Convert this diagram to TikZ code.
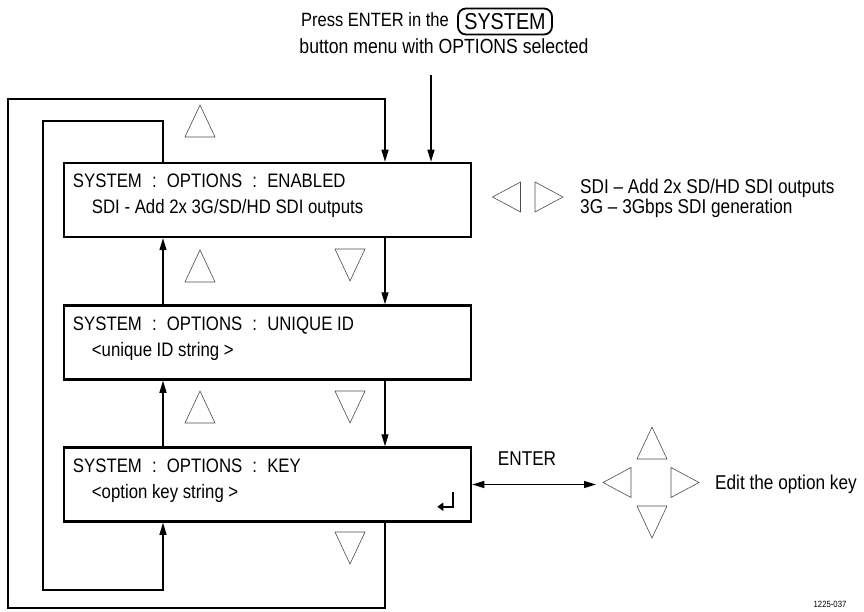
\documentclass[tikz,border=0pt]{standalone}
\usepackage{fontspec}
\setmainfont{Liberation Sans}[FakeStretch=0.86]
\usetikzlibrary{arrows.meta,calc}
\tikzset{
  box/.style={draw, line width=2.5pt, minimum width=407pt, minimum height=74pt, inner sep=0pt},
  txt/.style={font=\fontsize{20}{22}\selectfont, inner sep=0pt, anchor=base west},
  btxt/.style={txt, font=\fontsize{19.5}{22}\selectfont},
  conn/.style={line width=1.2pt, -{Triangle[length=12pt,width=7pt]}},
  tri/.style={draw=black!70, line width=0.6pt, line join=miter},
  tup/.pic={\draw[tri] (-15,16)--(15,16)--(0,-16)--cycle;},
  tdown/.pic={\draw[tri] (-15,-16)--(15,-16)--(0,16)--cycle;},
  tleft/.pic={\draw[tri] (-14,0)--(14,-15)--(14,15)--cycle;},
  tright/.pic={\draw[tri] (14,0)--(-14,-15)--(-14,15)--cycle;}
}
\newcommand{\gp}{\hspace{0.52em}}
\begin{document}
\begin{tikzpicture}[x=1pt,y=-1pt]
\useasboundingbox (0,0) rectangle (864,612);

% top instruction
\node[txt, anchor=base east, font=\fontsize{19.2}{22}\selectfont] (press) at (449,27) {Press ENTER in the};
\node[draw, rounded corners=8pt, line width=1.8pt, minimum width=94pt, minimum height=26pt,
      inner sep=0pt, font=\fontsize{23}{24}\selectfont] (sysbtn) at (505,21.5) {SYSTEM};
\node[txt, anchor=base, font=\fontsize{20.5}{22}\selectfont] (button) at (444,54) {button menu with OPTIONS selected};

% boxes
\node[box] (b1) at (267.5,200) {};
\node[box] (b2) at (267.5,342.5) {};
\node[box] (b3) at (267.5,484.5) {};

\node[btxt] (b1l1) at ($(b1.north west)+(10,26)$) {SYSTEM\gp:\gp OPTIONS\gp:\gp ENABLED};
\node[btxt] (b1l2) at ($(b1.north west)+(29,52)$) {SDI - Add 2x 3G/SD/HD SDI outputs};
\node[btxt] (b2l1) at ($(b2.north west)+(10,26)$) {SYSTEM\gp:\gp OPTIONS\gp:\gp UNIQUE ID};
\node[btxt] (b2l2) at ($(b2.north west)+(29,52)$) {<unique ID string >};
\node[btxt] (b3l1) at ($(b3.north west)+(10,26)$) {SYSTEM\gp:\gp OPTIONS\gp:\gp KEY};
\node[btxt] (b3l2) at ($(b3.north west)+(29,52)$) {<option key string >};

% return symbol
\draw[line width=1.8pt, -{Triangle[length=6pt,width=8pt]}]
  ($(b3.south east)+(-19,-31)$) |- ($(b3.south east)+(-35,-16)$);

% coordinates
\coordinate (rx) at (385,0);
\coordinate (lx) at (163,0);
\coordinate (entry) at (431,75);
\coordinate (ob) at (8,608);
\coordinate (ot) at (8,99);
\coordinate (it) at (43,121);
\coordinate (ib) at (43,590);
\coordinate (ent) at (596,0);

% connectors
\draw[conn] (entry) -- (entry |- b1.north);
\draw[conn] (b3.south -| rx) |- (ob) -- (ot) -| (b1.north -| rx);
\draw[conn] (b1.north -| lx) |- (it) -- (ib) -| (b3.south -| lx);
\draw[conn] (b1.south -| rx) -- (b2.north -| rx);
\draw[conn] (b2.south -| rx) -- (b3.north -| rx);
\draw[conn] (b2.north -| lx) -- (b1.south -| lx);
\draw[conn] (b3.north -| lx) -- (b2.south -| lx);
\draw[line width=1.2pt, {Triangle[length=12pt,width=7pt]}-{Triangle[length=12pt,width=7pt]}]
  (b3.east) -- (b3.east -| ent);

% triangles
\pic at (200,121) {tup};
\pic at (200,266) {tup};
\pic at (350,265) {tdown};
\pic at (200,407) {tup};
\pic at (350,407) {tdown};
\pic at (350,548) {tdown};
\pic at (506.5,197) {tleft};
\pic at (549,197) {tright};
\pic at (652,443) {tup};
\pic at (617,482.5) {tleft};
\pic at (685,482.5) {tright};
\pic at (652,522) {tdown};

% right texts
\node[txt] (sdi) at (580,193.5) {SDI -- Add 2x SD/HD SDI outputs};
\node[txt] (g3) at (580,213.5) {3G -- 3Gbps SDI generation};
\node[txt, anchor=base] (enter) at (527,465) {ENTER};
\node[txt] (edit) at (715,489) {Edit the option key};
\node[inner sep=0pt, anchor=base, font=\fontsize{9}{10}\selectfont] (fig) at (830,607) {1225-037};
\end{tikzpicture}
\end{document}
